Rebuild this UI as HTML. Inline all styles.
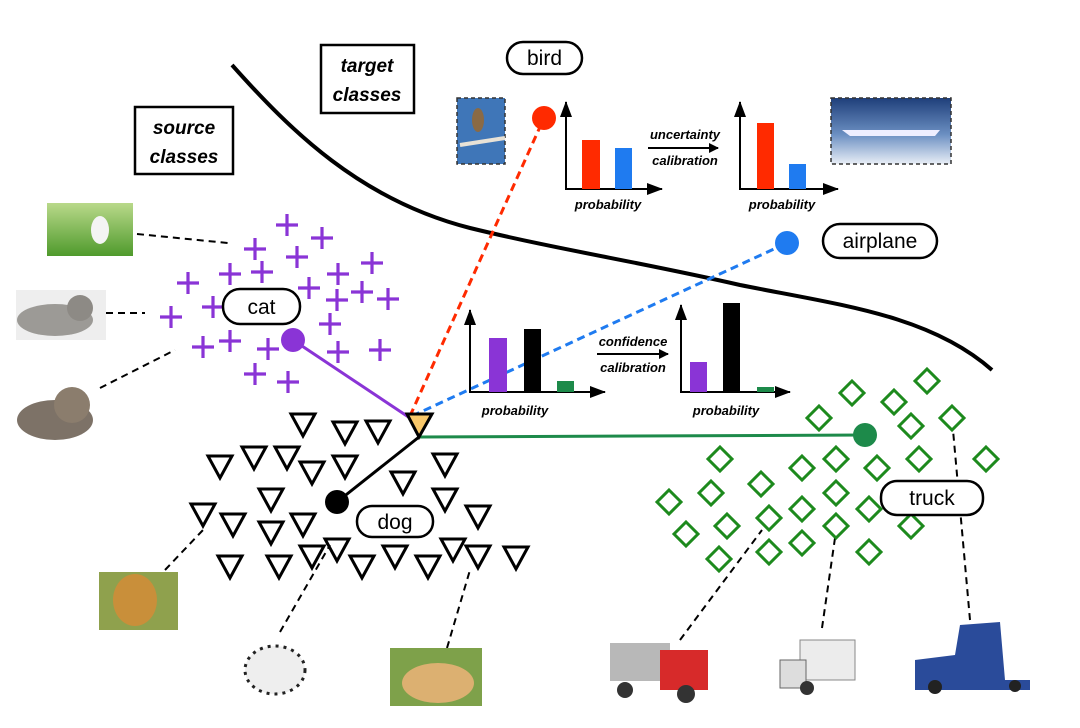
<!DOCTYPE html>
<html><head><meta charset="utf-8"><style>
html,body{margin:0;padding:0;background:#fff}
svg{display:block}
text{font-family:"Liberation Sans",sans-serif}
.lbl{font-size:21px}
.bi{font-size:19px;font-weight:bold;font-style:italic}
.sm{font-size:13px;font-weight:bold;font-style:italic}
</style></head><body>
<svg width="1080" height="728" viewBox="0 0 1080 728" xmlns="http://www.w3.org/2000/svg">
<defs>
<g id="p"><path d="M-11,0H11M0,-11V11" stroke="#8a34d6" stroke-width="3.2"/></g>
<g id="t"><path d="M-12,-11H12L0,11Z" fill="none" stroke="#000" stroke-width="3"/></g>
<g id="d"><path d="M0,-12L12,0L0,12L-12,0Z" fill="none" stroke="#1d8a1d" stroke-width="3"/></g>
<marker id="ah" markerWidth="10" markerHeight="10" refX="9" refY="5" orient="auto" markerUnits="userSpaceOnUse"><path d="M0,0L10,5L0,10Z" fill="#000"/></marker>
<marker id="ah2" markerWidth="16" markerHeight="12" refX="15" refY="6" orient="auto" markerUnits="userSpaceOnUse"><path d="M0,0L16,6L0,12Z" fill="#000"/></marker>
</defs>

<!-- boundary curve -->
<path d="M232,65 C290,130 360,200 470,228 C560,250 640,262 740,285 C840,305 930,315 992,370" fill="none" stroke="#000" stroke-width="4"/>

<!-- boxes -->
<rect x="321" y="45" width="93" height="68" fill="#fff" stroke="#000" stroke-width="2.5"/>
<text x="367" y="72" text-anchor="middle" class="bi">target</text>
<text x="367" y="101" text-anchor="middle" class="bi">classes</text>
<rect x="135" y="107" width="98" height="67" fill="#fff" stroke="#000" stroke-width="2.5"/>
<text x="184" y="134" text-anchor="middle" class="bi">source</text>
<text x="184" y="163" text-anchor="middle" class="bi">classes</text>

<!-- dashed leaders -->
<g stroke="#000" stroke-width="2" stroke-dasharray="7,5" fill="none">
<path d="M137,234L228,243"/><path d="M106,313L145,313"/><path d="M100,388L175,350"/>
<path d="M165,570L203,530"/><path d="M280,632L330,545"/><path d="M447,648L470,570"/>
<path d="M680,640L762,530"/><path d="M822,628L835,538"/><path d="M970,620L953,430"/>
</g>

<!-- photos (approximations) -->
<defs>
<linearGradient id="grass" x1="0" y1="0" x2="0" y2="1"><stop offset="0" stop-color="#b9d98a"/><stop offset="1" stop-color="#4f9a2c"/></linearGradient>
<linearGradient id="sky" x1="0" y1="0" x2="0" y2="1"><stop offset="0" stop-color="#1f3f7a"/><stop offset="0.55" stop-color="#6b8fc2"/><stop offset="1" stop-color="#e8eef6"/></linearGradient>
</defs>
<rect x="47" y="203" width="86" height="53" fill="url(#grass)"/>
<ellipse cx="100" cy="230" rx="9" ry="14" fill="#f4f4f4"/>
<rect x="16" y="290" width="90" height="50" fill="#eeeeee"/>
<ellipse cx="55" cy="320" rx="38" ry="16" fill="#9c9a96"/><circle cx="80" cy="308" r="13" fill="#8d8a85"/>
<ellipse cx="55" cy="420" rx="38" ry="20" fill="#7d7267"/><circle cx="72" cy="405" r="18" fill="#8b7d6d"/>
<rect x="457" y="98" width="48" height="66" fill="#3f76b8" stroke="#333" stroke-width="1.5" stroke-dasharray="4,3"/>
<ellipse cx="478" cy="120" rx="6" ry="12" fill="#8a6a45"/><path d="M460,145L505,138" stroke="#e8e2d6" stroke-width="4"/>
<rect x="831" y="98" width="120" height="66" fill="url(#sky)" stroke="#333" stroke-width="1.5" stroke-dasharray="4,3"/>
<path d="M842,130L940,130L935,136L850,136Z" fill="#eef"/>
<rect x="99" y="572" width="79" height="58" fill="#8fa14d"/><ellipse cx="135" cy="600" rx="22" ry="26" fill="#c98f3a"/>
<ellipse cx="275" cy="670" rx="30" ry="24" fill="#eee" stroke="#222" stroke-width="3" stroke-dasharray="3,5"/>
<rect x="390" y="648" width="92" height="58" fill="#7ea14a"/><ellipse cx="438" cy="683" rx="36" ry="20" fill="#dcb071"/>
<rect x="610" y="643" width="60" height="38" fill="#b8b8b8"/><rect x="660" y="650" width="48" height="40" fill="#d72a2a"/><circle cx="625" cy="690" r="8" fill="#333"/><circle cx="686" cy="694" r="9" fill="#333"/>
<rect x="800" y="640" width="55" height="40" fill="#ececec" stroke="#888"/><rect x="780" y="660" width="26" height="28" fill="#ddd" stroke="#666"/><circle cx="807" cy="688" r="7" fill="#333"/>
<path d="M915,660L955,655L960,625L1000,622L1005,680L1030,680L1030,690L915,690Z" fill="#2a4b9a"/><circle cx="935" cy="687" r="7" fill="#222"/><circle cx="1015" cy="686" r="6" fill="#222"/>

<!-- connector lines -->
<path d="M293,340L410,418" stroke="#8a34d6" stroke-width="3"/>
<path d="M410,416L544,118" stroke="#ff2a00" stroke-width="3" stroke-dasharray="8,5"/>
<path d="M412,416L787,243" stroke="#1f7bf0" stroke-width="3" stroke-dasharray="8,5"/>
<path d="M419,437L865,435" stroke="#1d8a4a" stroke-width="3"/>
<path d="M337,502L419,437" stroke="#000" stroke-width="3"/>

<!-- plus markers -->
<g>
<use href="#p" x="287" y="225"/><use href="#p" x="322" y="238"/><use href="#p" x="255" y="249"/><use href="#p" x="297" y="257"/>
<use href="#p" x="372" y="263"/><use href="#p" x="230" y="274"/><use href="#p" x="262" y="272"/><use href="#p" x="338" y="274"/>
<use href="#p" x="188" y="283"/><use href="#p" x="309" y="288"/><use href="#p" x="362" y="292"/><use href="#p" x="388" y="299"/>
<use href="#p" x="337" y="300"/><use href="#p" x="213" y="307"/><use href="#p" x="171" y="317"/><use href="#p" x="330" y="324"/>
<use href="#p" x="203" y="347"/><use href="#p" x="230" y="341"/><use href="#p" x="268" y="349"/><use href="#p" x="338" y="352"/>
<use href="#p" x="380" y="350"/><use href="#p" x="255" y="374"/><use href="#p" x="288" y="382"/>
</g>
<rect x="223" y="289" width="77" height="35" rx="17" fill="#fff" stroke="#000" stroke-width="2.5"/>
<text x="261.5" y="314" text-anchor="middle" class="lbl">cat</text>
<circle cx="293" cy="340" r="12" fill="#8a34d6"/>

<!-- triangles -->
<g>
<use href="#t" x="303" y="425"/><use href="#t" x="345" y="433"/><use href="#t" x="378" y="432"/><use href="#t" x="254" y="458"/>
<use href="#t" x="287" y="458"/><use href="#t" x="220" y="467"/><use href="#t" x="312" y="473"/><use href="#t" x="345" y="467"/>
<use href="#t" x="403" y="483"/><use href="#t" x="445" y="465"/><use href="#t" x="271" y="500"/><use href="#t" x="445" y="500"/>
<use href="#t" x="203" y="515"/><use href="#t" x="233" y="525"/><use href="#t" x="271" y="533"/><use href="#t" x="303" y="525"/>
<use href="#t" x="478" y="517"/><use href="#t" x="230" y="567"/><use href="#t" x="279" y="567"/><use href="#t" x="312" y="557"/>
<use href="#t" x="337" y="550"/><use href="#t" x="362" y="567"/><use href="#t" x="395" y="557"/><use href="#t" x="428" y="567"/>
<use href="#t" x="453" y="550"/><use href="#t" x="478" y="557"/><use href="#t" x="516" y="558"/>
</g>
<path d="M407,414H432L419,437Z" fill="#f9c86a" stroke="#000" stroke-width="3"/>
<circle cx="337" cy="502" r="12" fill="#000"/>
<rect x="357" y="506" width="76" height="31" rx="15" fill="#fff" stroke="#000" stroke-width="2.5"/>
<text x="395" y="529" text-anchor="middle" class="lbl">dog</text>

<!-- diamonds -->
<g>
<use href="#d" x="927" y="381"/><use href="#d" x="852" y="393"/><use href="#d" x="894" y="402"/><use href="#d" x="819" y="418"/>
<use href="#d" x="911" y="426"/><use href="#d" x="952" y="418"/><use href="#d" x="720" y="459"/><use href="#d" x="802" y="468"/>
<use href="#d" x="836" y="459"/><use href="#d" x="877" y="468"/><use href="#d" x="919" y="459"/><use href="#d" x="986" y="459"/>
<use href="#d" x="669" y="502"/><use href="#d" x="711" y="493"/><use href="#d" x="761" y="484"/><use href="#d" x="836" y="493"/>
<use href="#d" x="802" y="509"/><use href="#d" x="869" y="509"/><use href="#d" x="686" y="534"/><use href="#d" x="727" y="526"/>
<use href="#d" x="769" y="518"/><use href="#d" x="836" y="526"/><use href="#d" x="911" y="526"/><use href="#d" x="719" y="559"/>
<use href="#d" x="769" y="552"/><use href="#d" x="802" y="543"/><use href="#d" x="869" y="552"/>
</g>
<circle cx="865" cy="435" r="12" fill="#1d8a4a"/>
<rect x="881" y="481" width="102" height="34" rx="16" fill="#fff" stroke="#000" stroke-width="2.5"/>
<text x="932" y="505" text-anchor="middle" class="lbl">truck</text>

<!-- bird / airplane -->
<circle cx="544" cy="118" r="12" fill="#ff2a00"/>
<rect x="507" y="42" width="75" height="32" rx="16" fill="#fff" stroke="#000" stroke-width="2.5"/>
<text x="544.5" y="65" text-anchor="middle" class="lbl">bird</text>
<circle cx="787" cy="243" r="12" fill="#1f7bf0"/>
<rect x="823" y="224" width="114" height="34" rx="17" fill="#fff" stroke="#000" stroke-width="2.5"/>
<text x="880" y="248" text-anchor="middle" class="lbl">airplane</text>

<!-- top charts -->
<g stroke="#000" stroke-width="2" fill="none">
<path d="M566,189V102" marker-end="url(#ah2)"/><path d="M565,189H662" marker-end="url(#ah2)"/>
<path d="M740,189V102" marker-end="url(#ah2)"/><path d="M739,189H838" marker-end="url(#ah2)"/>
<path d="M648,148H718" marker-end="url(#ah)"/>
<path d="M470,392V310" marker-end="url(#ah2)"/><path d="M469,392H605" marker-end="url(#ah2)"/>
<path d="M681,392V305" marker-end="url(#ah2)"/><path d="M680,392H790" marker-end="url(#ah2)"/>
<path d="M597,354H668" marker-end="url(#ah)"/>
</g>
<rect x="582" y="140" width="18" height="49" fill="#ff2a00"/>
<rect x="615" y="148" width="17" height="41" fill="#1f7bf0"/>
<rect x="757" y="123" width="17" height="66" fill="#ff2a00"/>
<rect x="789" y="164" width="17" height="25" fill="#1f7bf0"/>
<text x="608" y="209" text-anchor="middle" class="sm">probability</text>
<text x="782" y="209" text-anchor="middle" class="sm">probability</text>
<text x="685" y="139" text-anchor="middle" class="sm">uncertainty</text>
<text x="685" y="165" text-anchor="middle" class="sm">calibration</text>

<rect x="489" y="338" width="18" height="54" fill="#8a34d6"/>
<rect x="524" y="329" width="17" height="63" fill="#000"/>
<rect x="557" y="381" width="17" height="11" fill="#1d8a4a"/>
<rect x="690" y="362" width="17" height="30" fill="#8a34d6"/>
<rect x="723" y="303" width="17" height="89" fill="#000"/>
<rect x="757" y="387" width="17" height="5" fill="#1d8a4a"/>
<text x="515" y="415" text-anchor="middle" class="sm">probability</text>
<text x="726" y="415" text-anchor="middle" class="sm">probability</text>
<text x="633" y="346" text-anchor="middle" class="sm">confidence</text>
<text x="633" y="372" text-anchor="middle" class="sm">calibration</text>
</svg>
</body></html>
